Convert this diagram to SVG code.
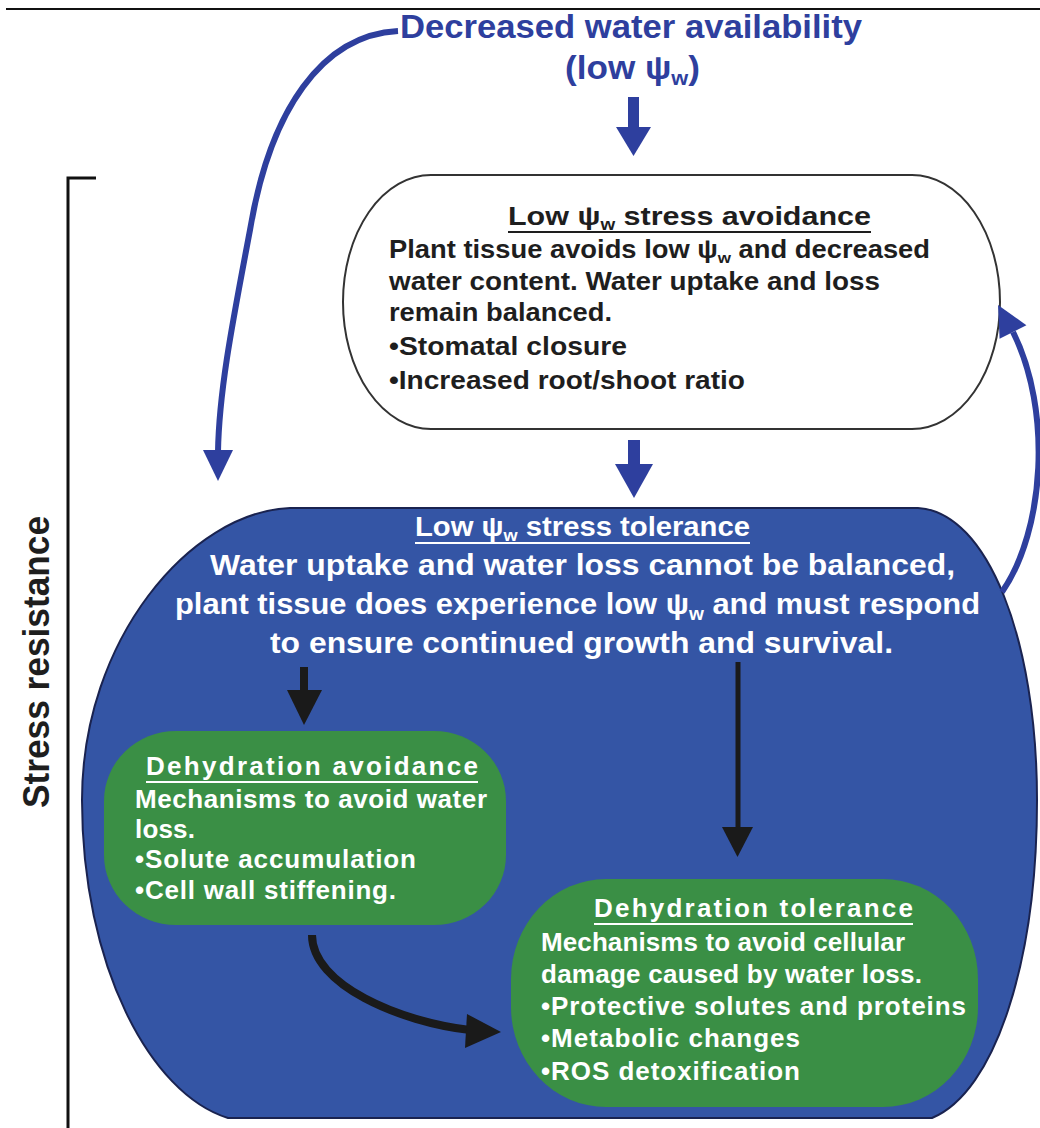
<svg xmlns="http://www.w3.org/2000/svg" width="1040" height="1128" viewBox="0 0 1040 1128">
<defs>
<style>
.narrow{font-family:"Liberation Sans Narrow","Liberation Sans",Arial,sans-serif;font-weight:bold}
.reg{font-family:"Liberation Sans",Arial,sans-serif;font-weight:bold}
.blueT{fill:#2e3f9e}
.dark{fill:#1e1e1e}
.white{fill:#ffffff}
.sub{font-size:0.62em}
.ul{stroke-width:2}
</style>
</defs>
<rect x="0" y="0" width="1040" height="1128" fill="#ffffff"/>
<line x1="6" y1="9" x2="1040" y2="9" stroke="#111" stroke-width="2"/>

<g id="bracket">
<polyline points="96,178 68,178 68,1128" fill="none" stroke="#111" stroke-width="3"/>
<text class="narrow dark" font-size="36" transform="translate(49,808) rotate(-90)" textLength="292" lengthAdjust="spacingAndGlyphs">Stress resistance</text>
</g>

<g id="source">
<text class="narrow blueT" x="400" y="38" font-size="34" textLength="462" lengthAdjust="spacingAndGlyphs">Decreased water availability</text>
<text class="narrow blueT" x="565" y="79" font-size="34" textLength="135" lengthAdjust="spacingAndGlyphs">(low ψ<tspan class="sub" dy="6">w</tspan><tspan dy="-6">)</tspan></text>
</g>

<g id="avoidance">
<rect x="343" y="175" width="657" height="254" rx="88" ry="127" fill="#ffffff" stroke="#333" stroke-width="2"/>
<text class="reg dark" x="508" y="225" font-size="26" textLength="363" lengthAdjust="spacingAndGlyphs">Low ψ<tspan class="sub" dy="5">w</tspan><tspan dy="-5"> stress  avoidance</tspan></text>
<line x1="508" y1="232" x2="871" y2="232" stroke="#1e1e1e" class="ul"/>
<text class="reg dark" x="389" y="258" font-size="25" textLength="541" lengthAdjust="spacingAndGlyphs">Plant tissue avoids low ψ<tspan class="sub" dy="5">w</tspan><tspan dy="-5"> and decreased</tspan></text>
<text class="reg dark" x="389" y="290" font-size="25" textLength="491" lengthAdjust="spacingAndGlyphs">water content.  Water uptake and loss</text>
<text class="reg dark" x="389" y="321" font-size="25" textLength="223" lengthAdjust="spacingAndGlyphs">remain balanced.</text>
<text class="reg dark" x="389" y="355" font-size="25" textLength="238" lengthAdjust="spacingAndGlyphs">•Stomatal closure</text>
<text class="reg dark" x="389" y="389" font-size="25" textLength="356" lengthAdjust="spacingAndGlyphs">•Increased root/shoot ratio</text>
</g>

<g id="tolerance">
<path d="M 290 508 L 918 508 C 988 512 1037 640 1037 800 C 1037 962 995 1092 932 1118 L 228 1118 C 150 1094 82 965 82 800 C 82 640 190 512 290 508 Z" fill="#3455a5" stroke="#1a2350" stroke-width="2"/>
<text class="narrow white" x="415" y="536" font-size="28" textLength="335" lengthAdjust="spacingAndGlyphs">Low ψ<tspan class="sub" dy="5">w</tspan><tspan dy="-5"> stress tolerance</tspan></text>
<line x1="415" y1="543" x2="750" y2="543" stroke="#ffffff" class="ul"/>
<text class="narrow white" x="210" y="575" font-size="29" textLength="745" lengthAdjust="spacingAndGlyphs">Water uptake and water loss cannot be balanced,</text>
<text class="narrow white" x="175" y="614" font-size="29" textLength="805" lengthAdjust="spacingAndGlyphs">plant tissue does experience low ψ<tspan class="sub" dy="6">w</tspan><tspan dy="-6"> and must respond</tspan></text>
<text class="narrow white" x="270" y="653" font-size="29" textLength="623" lengthAdjust="spacingAndGlyphs">to ensure continued growth and survival.</text>
</g>

<g id="dehydration-avoidance">
<rect x="104" y="731" width="402" height="194" rx="72" ry="70" fill="#3a8f45"/>
<text class="reg white" x="146" y="775" font-size="26" textLength="332" lengthAdjust="spacing">Dehydration  avoidance</text>
<line x1="146" y1="782" x2="478" y2="782" stroke="#ffffff" class="ul"/>
<text class="reg white" x="135" y="808" font-size="26" textLength="352" lengthAdjust="spacing">Mechanisms to avoid water</text>
<text class="reg white" x="135" y="838" font-size="26" textLength="60" lengthAdjust="spacing">loss.</text>
<text class="reg white" x="135" y="868" font-size="26" textLength="281" lengthAdjust="spacing">•Solute accumulation</text>
<text class="reg white" x="135" y="899" font-size="26" textLength="261" lengthAdjust="spacing">•Cell wall stiffening.</text>
</g>

<g id="dehydration-tolerance">
<rect x="511" y="879" width="467" height="228" rx="95" ry="100" fill="#3a8f45"/>
<text class="reg white" x="594" y="917" font-size="26" textLength="319" lengthAdjust="spacing">Dehydration  tolerance</text>
<line x1="594" y1="924" x2="913" y2="924" stroke="#ffffff" class="ul"/>
<text class="reg white" x="541" y="951" font-size="26" textLength="364" lengthAdjust="spacing">Mechanisms to avoid cellular</text>
<text class="reg white" x="541" y="983" font-size="26" textLength="381" lengthAdjust="spacing">damage caused by water loss.</text>
<text class="reg white" x="541" y="1015" font-size="26" textLength="425" lengthAdjust="spacing">•Protective solutes and proteins</text>
<text class="reg white" x="541" y="1047" font-size="26" textLength="259" lengthAdjust="spacing">•Metabolic changes</text>
<text class="reg white" x="541" y="1080" font-size="26" textLength="259" lengthAdjust="spacing">•ROS detoxification</text>
</g>

<g id="connectors">
<rect x="628" y="97" width="11" height="32" fill="#2e3f9e"/>
<polygon points="616,127 651,127 633.5,156" fill="#2e3f9e"/>
<rect x="628" y="440" width="12" height="26" fill="#2e3f9e"/>
<polygon points="615,464 653,464 634,498" fill="#2e3f9e"/>
<path d="M 398 31 C 322 35 270 110 250 230 C 233 320 219 390 218 452" fill="none" stroke="#2e3f9e" stroke-width="6"/>
<polygon points="203,450 233,450 218,481" fill="#2e3f9e"/>
<path d="M 1002 592 C 1045 530 1052 410 1013 332" fill="none" stroke="#2e3f9e" stroke-width="6"/>
<polygon points="1026.4,325.2 999.6,338.8 998,305" fill="#2e3f9e"/>
<rect x="300" y="667" width="8" height="25" fill="#1a1a1a"/>
<polygon points="287,690 322,690 304,725" fill="#1a1a1a"/>
<line x1="738" y1="662" x2="738" y2="830" stroke="#1a1a1a" stroke-width="5"/>
<polygon points="722,827 753,827 737.5,857" fill="#1a1a1a"/>
<path d="M 312 935 C 312 985 400 1022 470 1030" fill="none" stroke="#1a1a1a" stroke-width="8"/>
<polygon points="467,1014 501,1032 465,1048" fill="#1a1a1a"/>
</g>
</svg>
